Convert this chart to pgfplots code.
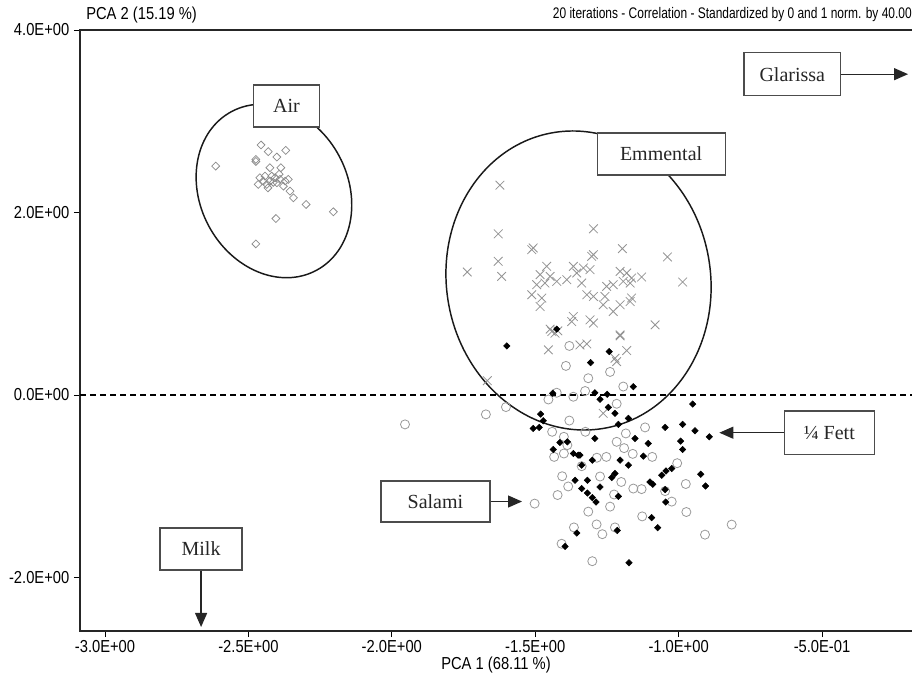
\documentclass[border=0pt]{standalone}
\usepackage{fontspec}
\setmainfont{Liberation Serif}
\newfontfamily\ticksf{Liberation Sans}[FakeStretch=0.85]
\newfontfamily\hdrsf{Liberation Sans}[FakeStretch=0.78]
\usepackage{pgfplots}
\pgfplotsset{compat=1.18}
\usetikzlibrary{arrows.meta,shapes.geometric}

\pgfplotstableread{
x y
-2.614 2.509
-2.456 2.740
-2.431 2.667
-2.401 2.608
-2.370 2.681
-2.474 2.582
-2.425 2.491
-2.387 2.491
-2.460 2.381
-2.442 2.399
-2.425 2.344
-2.407 2.381
-2.390 2.363
-2.372 2.344
-2.466 2.308
-2.436 2.308
-2.401 2.326
-2.378 2.289
-2.448 2.344
-2.419 2.399
-2.361 2.363
-2.355 2.234
-2.343 2.161
-2.299 2.088
-2.204 2.008
-2.404 1.934
-2.474 1.656
-2.413 2.330
-2.432 2.270
-2.393 2.420
-2.474 2.560
}\airdata

\pgfplotstableread{
x y
-1.623 2.300
-1.629 1.766
-1.297 1.821
-1.512 1.593
-1.507 1.612
-1.629 1.465
-1.617 1.300
-1.737 1.348
-1.196 1.604
-1.303 1.520
-1.297 1.538
-1.039 1.513
-0.986 1.238
-1.460 1.410
-1.483 1.319
-1.448 1.300
-1.495 1.209
-1.466 1.227
-1.425 1.245
-1.390 1.264
-1.367 1.410
-1.355 1.337
-1.338 1.227
-1.332 1.392
-1.309 1.374
-1.512 1.099
-1.477 1.063
-1.483 0.970
-1.320 1.099
-1.297 1.080
-1.251 1.190
-1.228 1.209
-1.204 1.355
-1.181 1.337
-1.164 1.282
-1.129 1.293
-1.193 1.245
-1.169 1.227
-1.257 1.080
-1.263 0.989
-1.228 0.915
-1.204 0.989
-1.169 1.025
-1.164 1.063
-1.082 0.769
-1.367 0.860
-1.373 0.805
-1.309 0.824
-1.297 0.788
-1.448 0.722
-1.431 0.678
-1.204 0.659
-1.667 0.157
-1.454 0.495
-1.344 0.549
-1.320 0.560
-1.204 0.648
-1.181 0.487
-1.222 0.403
-1.216 0.366
-1.263 -0.201
-1.442 0.696
-1.421 0.703
}\emmdata

\pgfplotstableread{
x y
-1.954 -0.322
-1.672 -0.212
-1.602 -0.132
-1.454 -0.049
-1.425 0.025
-1.367 -0.019
-1.326 0.044
-1.381 0.538
-1.393 0.319
-1.315 0.184
-1.239 0.253
-1.193 0.093
-1.216 -0.096
-1.381 -0.280
-1.441 -0.403
-1.325 -0.403
-1.184 -0.421
-1.117 -0.355
-1.400 -0.458
-1.434 -0.678
-1.400 -0.641
-1.285 -0.687
-1.252 -0.678
-1.216 -0.513
-1.190 -0.582
-1.160 -0.645
-1.092 -0.678
-1.005 -0.747
-1.406 -0.890
-1.385 -1.002
-1.422 -1.096
-1.502 -1.190
-1.274 -0.893
-1.200 -0.953
-1.225 -1.090
-1.239 -1.223
-1.158 -1.025
-1.129 -1.031
-1.047 -1.053
-1.024 -1.168
-0.975 -0.975
-0.973 -1.282
-1.315 -1.278
-1.127 -1.330
-1.365 -1.451
-1.286 -1.418
-1.266 -1.525
-1.222 -1.451
-1.408 -1.630
-1.301 -1.821
-0.908 -1.530
-0.815 -1.420
-1.338 -0.780
-1.388 -0.549
}\salamidata

\pgfplotstableread{
x y
-1.599 0.538
-1.242 0.476
-1.307 0.355
-1.425 0.722
-1.158 0.091
-1.439 0.019
-1.292 0.025
-1.274 -0.047
-1.249 0.008
-1.245 -0.135
-1.222 -0.201
-1.175 -0.256
-1.210 -0.322
-0.951 -0.099
-1.481 -0.209
-1.472 -0.282
-1.507 -0.366
-1.486 -0.355
-1.047 -0.355
-0.986 -0.322
-0.943 -0.392
-0.893 -0.458
-1.292 -0.476
-1.152 -0.476
-0.993 -0.505
-0.986 -0.597
-1.106 -0.531
-1.414 -0.520
-1.388 -0.513
-1.437 -0.597
-1.367 -0.641
-1.350 -0.659
-1.123 -0.670
-1.344 -0.659
-1.301 -0.714
-1.204 -0.714
-1.175 -0.769
-1.338 -0.769
-1.361 -0.934
-1.318 -0.934
-1.274 -1.008
-1.233 -0.904
-1.222 -0.860
-1.338 -1.025
-1.318 -1.074
-1.301 -1.124
-1.288 -1.173
-1.210 -1.110
-1.100 -0.953
-1.090 -0.978
-1.059 -0.879
-1.044 -0.832
-1.024 -0.805
-1.047 -1.036
-1.045 -1.173
-0.923 -0.868
-0.906 -0.997
-1.094 -1.344
-1.073 -1.454
-1.355 -1.513
-1.214 -1.484
-1.396 -1.659
-1.173 -1.838
}\fettdata

\begin{document}
\begin{tikzpicture}
\begin{axis}[
  x=215.1pt, y=68.44pt,
  xmin=-3.0872, xmax=-0.17, ymin=-2.586, ymax=4.0,
  anchor=south west, at={(0pt,0pt)},
  axis line style={line width=0.8pt, black!85},
  tick align=outside, tick pos=left,
  major tick length=4.5pt,
  tick style={line width=0.6pt, black},
  xtick={-3,-2.5,-2,-1.5,-1,-0.5},
  xticklabels={-3.0E+00,-2.5E+00,-2.0E+00,-1.5E+00,-1.0E+00,-5.0E-01},
  ytick={-2,0,2,4},
  yticklabels={-2.0E+00,0.0E+00,2.0E+00,4.0E+00},
  ticklabel style={font=\ticksf\fontsize{13}{15}\selectfont},
  xticklabel style={yshift=1pt},
  clip=false,
]
% ellipses
\node[draw=black!90, line width=1.1pt, ellipse, inner sep=0pt,
      minimum width=111pt, minimum height=135pt, rotate=28]
      at (axis cs:-2.411,2.236) {};
\node[draw=black!90, line width=1.1pt, ellipse, inner sep=0pt,
      minimum width=198pt, minimum height=225pt, rotate=10]
      at (axis cs:-1.349,1.255) {};
% zero line
\draw[black, line width=0.8pt, dash pattern=on 4.5pt off 3pt]
  (axis cs:-3.0872,0) -- (axis cs:-0.17,0);

\addplot[only marks, mark=square, mark size=2.1pt, black!45,
  mark options={rotate=45, line width=0.55pt}] table {\airdata};
\addplot[only marks, mark=x, mark size=4.6pt, black!42,
  mark options={line width=0.6pt}] table {\emmdata};
\addplot[only marks, mark=o, mark size=3.4pt, black!40,
  mark options={line width=0.6pt}] table {\salamidata};
\addplot[only marks, mark=square*, mark size=1.7pt, black,
  mark options={rotate=45}] table {\fettdata};

% label boxes
\tikzset{lbox/.style={draw=black!70, fill=white, line width=0.9pt, inner sep=0pt,
  text=black!85, font=\fontsize{15}{17}\selectfont}}
\node[lbox, minimum width=50pt, minimum height=31.5pt] at (axis cs:-2.367,3.167) {Air};
\node[lbox, minimum width=96pt, minimum height=31.5pt] at (axis cs:-1.061,2.641) {Emmental};
\node[lbox, minimum width=72.5pt, minimum height=32pt] (glar) at (axis cs:-0.6036,3.516) {Glarissa};
\node[lbox, minimum width=61.5pt, minimum height=31.5pt] (milk) at (axis cs:-2.665,-1.688) {Milk};
\node[lbox, minimum width=81.75pt, minimum height=30.75pt] (sal) at (axis cs:-1.848,-1.167) {Salami};
\node[lbox, minimum width=67.5pt, minimum height=32.5pt] (fett) at (axis cs:-0.4746,-0.413) {¼ Fett};

\tikzset{larr/.style={line width=0.9pt, black!85, -{Triangle[length=10.5pt,width=9pt]}}}
\draw[larr] (glar.east) -- (axis cs:-0.20,3.516);
\draw[larr] (milk.south) -- (axis cs:-2.665,-2.542);
\draw[larr] (sal.east) -- (axis cs:-1.546,-1.167);
\draw[larr] (fett.west) -- (axis cs:-0.858,-0.413);
\end{axis}
\node[anchor=east, inner sep=0pt, font=\hdrsf\fontsize{11.5}{13}\selectfont]
  at (624pt,462pt) {20 iterations - Correlation - Standardized by 0 and 1 norm. by 40.00};
\node[anchor=west, inner sep=0pt, font=\ticksf\fontsize{13}{15}\selectfont]
  at (4.5pt,462pt) {PCA 2 (15.19 \%)};
\node[inner sep=0pt, font=\ticksf\fontsize{13}{15}\selectfont]
  at (312pt,-25.5pt) {PCA 1 (68.11 \%)};
\pgfresetboundingbox
\path[use as bounding box] (-60pt,-33pt) rectangle (624pt,473.25pt);
\end{tikzpicture}
\end{document}
